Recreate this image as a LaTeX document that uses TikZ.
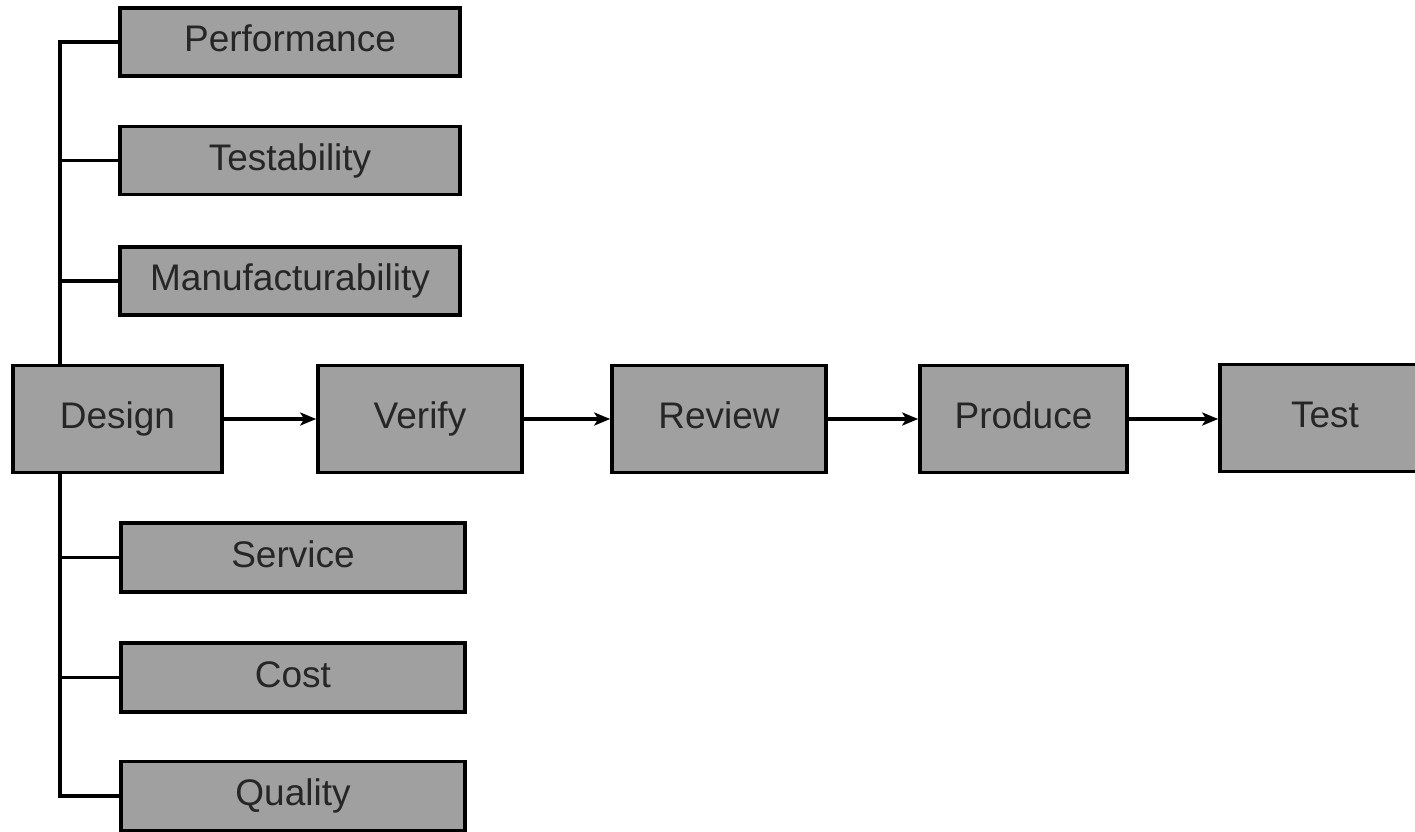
\documentclass[tikz,border=0pt]{standalone}
\usepackage{fontspec}
\setmainfont{Liberation Sans}
\usetikzlibrary{arrows.meta}
\definecolor{boxgray}{RGB}{160,160,160}
\begin{document}
\begin{tikzpicture}[x=0.5pt,y=-0.5pt,
  box/.style={draw=black,line width=1.8pt,fill=boxgray,inner sep=0pt,
    font=\fontsize{18.5}{22}\selectfont,text=black!85,
    text height=13.5pt,text depth=4pt},
  side/.style={box,minimum width=170pt,minimum height=34pt},
  side2/.style={box,minimum width=172pt,minimum height=34.5pt},
  flow/.style={box,minimum height=53.5pt},
  link/.style={line width=1.8pt,black},
  arr/.style={link,-{Stealth[length=8pt,width=6.5pt,inset=2pt]}}]
\useasboundingbox (0,0) rectangle (1415,831);
\clip (0,0) rectangle (1415,831);
\fill[white] (0,0) rectangle (1415,831);
\coordinate (tt) at (60,0);
% side boxes
\node[side] (perf) at (290,42) {Performance};
\node[side] (testab) at (290,160.5) {Testability};
\node[side] (manuf) at (290,281) {Manufacturability};
\node[side2] (serv) at (293,557.5) {Service};
\node[side2] (cost) at (293,677.5) {Cost};
\node[side2] (qual) at (293,796) {Quality};
% flow boxes
\node[flow,minimum width=104.5pt] (design) at (117.5,419) {Design};
\node[flow,minimum width=102pt] (verify) at (420,419) {Verify};
\node[flow,minimum width=107pt] (review) at (719,419) {Review};
\node[flow,minimum width=103.5pt] (produce) at (1023.5,419) {Produce};
\node[flow,minimum width=120pt] (test) at (1340,418) {\hspace*{-15pt}Test};
% trunk
\draw[link] (design.north -| tt) |- (perf.west);
\draw[link] (design.south -| tt) |- (qual.west);
\draw[link] (testab.west) -- (testab.west -| tt);
\draw[link] (manuf.west) -- (manuf.west -| tt);
\draw[link] (serv.west) -- (serv.west -| tt);
\draw[link] (cost.west) -- (cost.west -| tt);
% arrows
\draw[arr] (design.east) -- (verify.west);
\draw[arr] (verify.east) -- (review.west);
\draw[arr] (review.east) -- (produce.west);
\draw[arr] (produce.east) -- (produce.east -| test.west);
\end{tikzpicture}
\end{document}
